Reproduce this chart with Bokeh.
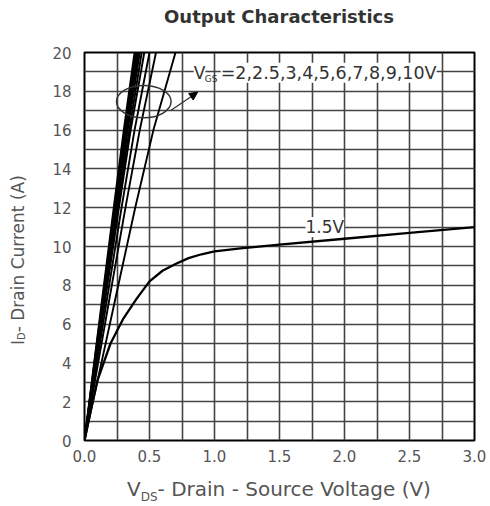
import numpy as np
from bokeh.plotting import figure
from bokeh.layouts import column, row
from bokeh.models import Label, Arrow, NormalHead, SingleIntervalTicker, FixedTicker, Div
from bokeh.embed import file_html
from bokeh.resources import INLINE

# ---------------- data ----------------
id_steep = [0, 4, 8, 12, 16, 20]           # drain current points (A)
vgs_steep = ["2", "2.5", "3", "4", "5", "6", "7", "8", "9", "10"]
vds_steep = {
    "2":   [0, 0.13, 0.26, 0.39, 0.53, 0.70],
    "2.5": [0, 0.105, 0.21, 0.315, 0.425, 0.55],
    "3":   [0, 0.095, 0.19, 0.285, 0.385, 0.50],
    "4":   [0, 0.088, 0.176, 0.265, 0.355, 0.46],
    "5":   [0, 0.085, 0.17, 0.255, 0.345, 0.44],
    "6":   [0, 0.082, 0.165, 0.248, 0.333, 0.425],
    "7":   [0, 0.080, 0.161, 0.242, 0.325, 0.415],
    "8":   [0, 0.078, 0.157, 0.236, 0.317, 0.405],
    "9":   [0, 0.076, 0.153, 0.230, 0.309, 0.395],
    "10":  [0, 0.074, 0.149, 0.225, 0.302, 0.385],
}
vds_15 = [0, 0.05, 0.10, 0.20, 0.30, 0.40, 0.50, 0.60, 0.70, 0.80, 0.90, 1.00, 1.20, 1.50, 2.00, 2.50, 3.00]
id_15  = [0, 1.6, 3.1, 5.0, 6.3, 7.3, 8.2, 8.75, 9.1, 9.4, 9.6, 9.75, 9.9, 10.1, 10.4, 10.7, 11.0]

x_ticks = [0.0, 0.5, 1.0, 1.5, 2.0, 2.5, 3.0]
y_ticks = [0, 2, 4, 6, 8, 10, 12, 14, 16, 18, 20]

title_text = "Output Characteristics"
vgs_label = "=2,2.5,3,4,5,6,7,8,9,10V"
curve_15_label = "1.5V"

FONT = "DejaVu Sans"

# ---------------- figure ----------------
p = figure(width=452, height=420, x_range=(0, 3), y_range=(0, 20),
           output_backend="svg", toolbar_location=None, margin=0,
           min_border_left=46, min_border_right=16, min_border_top=8, min_border_bottom=24)

p.background_fill_color = "white"
p.border_fill_color = "white"
p.outline_line_color = "black"
p.outline_line_width = 2

p.xaxis.ticker = FixedTicker(ticks=x_ticks)
p.yaxis.ticker = FixedTicker(ticks=y_ticks)
p.xaxis.major_label_overrides = {t: f"{t:.1f}" for t in x_ticks}
for ax in (p.xaxis, p.yaxis):
    ax.axis_line_color = None
    ax.major_tick_line_color = None
    ax.minor_tick_line_color = None
    ax.major_label_text_font = FONT
    ax.major_label_text_font_size = "15px"
    ax.major_label_text_color = "#555555"
p.xaxis.major_label_standoff = 3
p.yaxis.major_label_standoff = 7

p.xgrid.ticker = SingleIntervalTicker(interval=0.25)
p.ygrid.ticker = SingleIntervalTicker(interval=1)
for g in (p.xgrid, p.ygrid):
    g.grid_line_color = "#444444"
    g.grid_line_width = 1.6

# curves
for v in vgs_steep:
    p.line(vds_steep[v], id_steep, line_color="black", line_width=1.9)
p.line(vds_15, id_15, line_color="black", line_width=2.3)

# annotation ellipse + arrow
p.ellipse(x=[0.456], y=[17.47], width=[0.42], height=[1.67],
          fill_color=None, line_color="#333333", line_width=1.5)
p.add_layout(Arrow(end=NormalHead(size=8, fill_color="black", line_color="black"),
                   x_start=0.66, y_start=17.0, x_end=0.87, y_end=17.95,
                   line_color="#333333", line_width=1.3))

# labels inside the frame
p.add_layout(Label(x=0.84, y=18.95, text="V", text_font=FONT, text_font_size="17px",
                   text_color="#333333", text_baseline="middle", text_align="left",
                   background_fill_color="white"))
p.add_layout(Label(x=0.84, y=18.95, x_offset=11, y_offset=-6, text="GS", text_font=FONT,
                   text_font_size="9px", text_color="#333333", text_baseline="middle"))
p.add_layout(Label(x=0.84, y=18.95, x_offset=27, text=vgs_label, text_font=FONT,
                   text_font_size="17.5px", text_color="#333333", text_baseline="middle",
                   background_fill_color="white"))
p.add_layout(Label(x=1.70, y=11.0, text=curve_15_label, text_font=FONT, text_font_size="17px",
                   text_color="#333333", text_baseline="middle", background_fill_color="white"))

# ---------------- title and axis labels (HTML, with subscripts) ----------------
title_div = Div(
    width=490, height=44, margin=0,
    text=(f'<div style="width:390px;margin-left:84px;text-align:center;'
          f'font-family:\'{FONT}\';font-weight:bold;font-size:18px;color:#333;'
          f'line-height:22px;padding-top:6px;">{title_text}</div>'))

ylabel_div = Div(
    width=38, height=420, margin=0,
    text=(f'<div style="writing-mode:vertical-rl;transform:rotate(180deg);'
          f'height:388px;margin-top:22px;margin-left:8px;text-align:center;'
          f'font-family:\'{FONT}\';font-size:17px;color:#555;line-height:20px;">'
          f'I<sub style="font-size:10px;">D</sub>- Drain Current (A)</div>'))

xlabel_div = Div(
    width=490, height=42, margin=0,
    text=(f'<div style="width:390px;margin-left:84px;text-align:center;'
          f'font-family:\'{FONT}\';font-size:20px;color:#555;line-height:22px;padding-top:14px;">'
          f'V<sub style="font-size:12px;">DS</sub>- Drain - Source Voltage (V)</div>'))

layout = column(title_div, row(ylabel_div, p, margin=0), xlabel_div, margin=0)

open("out.html", "w").write(file_html(layout, INLINE))
